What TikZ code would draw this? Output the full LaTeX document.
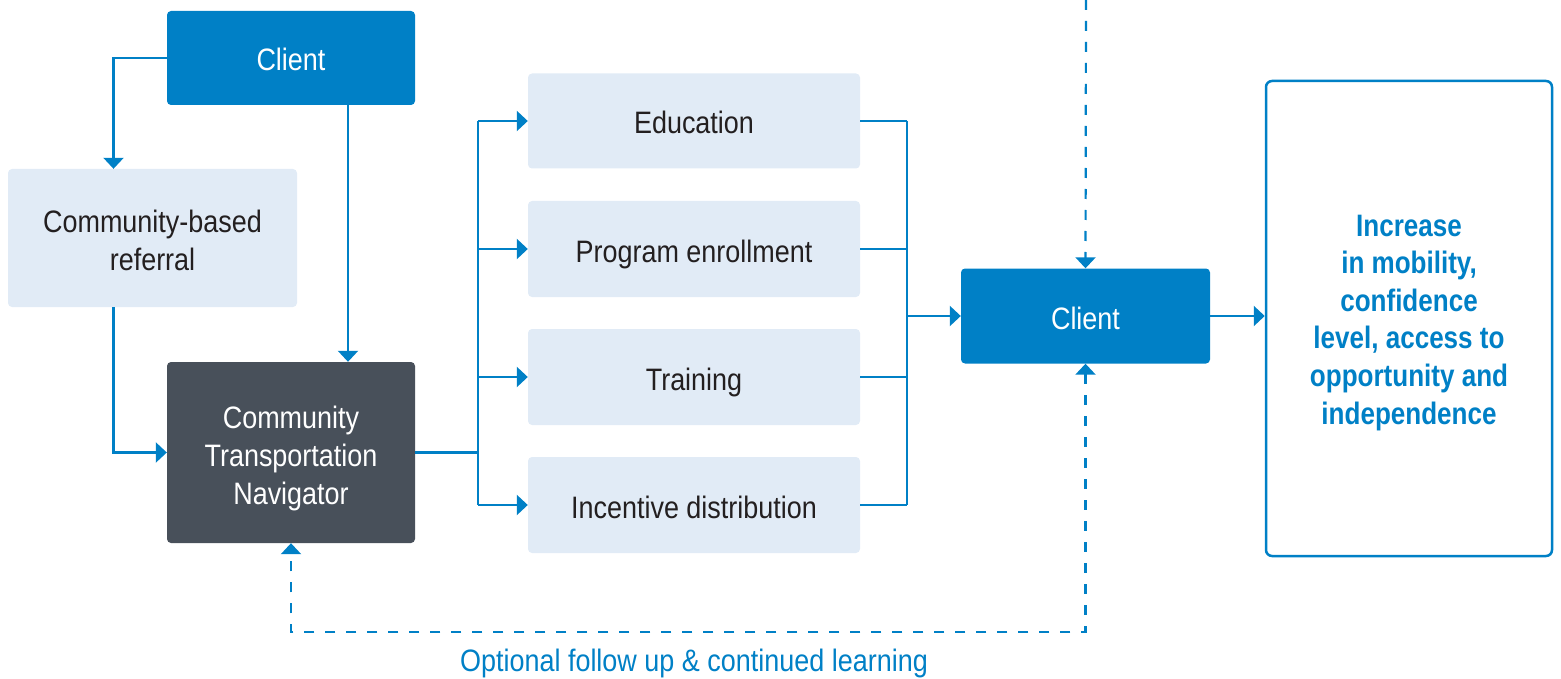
\documentclass[tikz,border=0pt]{standalone}
\usepackage{fontspec}
\setmainfont{Liberation Sans}[FakeStretch=0.87]
\newfontfamily\outfont{Liberation Sans}[FakeStretch=0.84]
\usetikzlibrary{arrows.meta,calc}
\definecolor{brand}{HTML}{0080C6}
\definecolor{pale}{HTML}{E1EBF6}
\definecolor{slate}{HTML}{48505A}
\definecolor{ink}{HTML}{231F20}
\begin{document}
\begin{tikzpicture}[x=1pt,y=-1pt,
  every node/.style={inner sep=0pt, align=center, font=\fontsize{31}{38}\selectfont},
  % text box measured from the top of the block down to the last baseline
  lines/.style={text height=#1, text depth=0pt},
  oneline/.style={lines=26pt},
  bluebox/.style={rectangle, rounded corners=4pt, fill=brand, text=white},
  palebox/.style={rectangle, rounded corners=4pt, fill=pale, text=ink},
  darkbox/.style={rectangle, rounded corners=4pt, fill=slate, text=white},
  outbox/.style={rectangle, rounded corners=6pt, draw=brand, line width=2.5pt, fill=white,
    text=brand, font=\outfont\bfseries\fontsize{31}{37.6}\selectfont},
  link/.style={draw=brand, line width=2.2pt, -{Triangle[width=20pt,length=11pt]}},
  plain/.style={draw=brand, line width=2.2pt},
  dashlink/.style={link, dash pattern=on 10pt off 11pt},
  note/.style={text=brand}
]
\useasboundingbox (0,0) rectangle (1561,679);

% boxes
\node[bluebox, oneline, minimum width=248pt, minimum height=94pt] (cl1) at (291,58) {Client};
\node[palebox, lines=65pt, minimum width=289pt, minimum height=138pt] (ref) at (152.5,238)
  {Community-based\\referral};
\node[darkbox, lines=103pt, minimum width=248pt, minimum height=181pt] (ctn) at (291,452.5)
  {Community\\Transportation\\Navigator};
\node[palebox, oneline, minimum width=332pt, minimum height=95pt] (edu) at (694,121) {Education};
\node[palebox, oneline, minimum width=332pt, minimum height=96pt] (prg) at (694,249) {Program enrollment};
\node[palebox, oneline, minimum width=332pt, minimum height=96pt] (trn) at (694,377) {Training};
\node[palebox, oneline, minimum width=332pt, minimum height=96pt] (inc) at (694,505) {Incentive distribution};
\node[bluebox, oneline, minimum width=249pt, minimum height=95pt] (cl2) at (1085.5,316) {Client};
\node[outbox, lines=211pt, minimum width=286pt, minimum height=475pt] (out) at (1409,318.5)
  {Increase\\in mobility,\\confidence\\level, access to\\opportunity and\\independence};
\node[note, anchor=base] (fol) at (694,671.5) {Optional follow up \& continued learning};

% bus lines and free ends
\coordinate (busL) at (478,0);
\coordinate (busR) at (907,0);
\coordinate (topd) at (1086,0);
\coordinate (loop) at (0,632);

% referral paths into the navigator
\draw[link] (cl1.west) -| ([xshift=-39pt]ref.north);
\draw[link] ([xshift=57pt]cl1.south) -- ([xshift=57pt]ctn.north);
\draw[link] ([xshift=-39pt]ref.south) |- (ctn.west);

% navigator fans out to the services
\draw[plain] (ctn.east) -- (busL |- ctn.east);
\draw[plain] (busL |- edu.west) -- (busL |- inc.west);
\foreach \s in {edu,prg,trn,inc}
  \draw[link] (busL |- \s.west) -- (\s.west);

% services gather into the client
\foreach \s in {edu,prg,trn,inc}
  \draw[plain] (\s.east) -- (busR |- \s.east);
\draw[plain] (busR |- edu.east) -- (busR |- inc.east);
\draw[link] (busR |- cl2.west) -- (cl2.west);

% outcome
\draw[link] (cl2.east) -- (cl2.east -| out.west);

% dashed feedback paths
\draw[dashlink] (topd) -- (cl2.north);
\draw[dashlink, {Triangle[width=20pt,length=11pt]}-{Triangle[width=20pt,length=11pt]}]
  (cl2.south) -- (cl2.south |- loop) -| (ctn.south);
\end{tikzpicture}
\end{document}
